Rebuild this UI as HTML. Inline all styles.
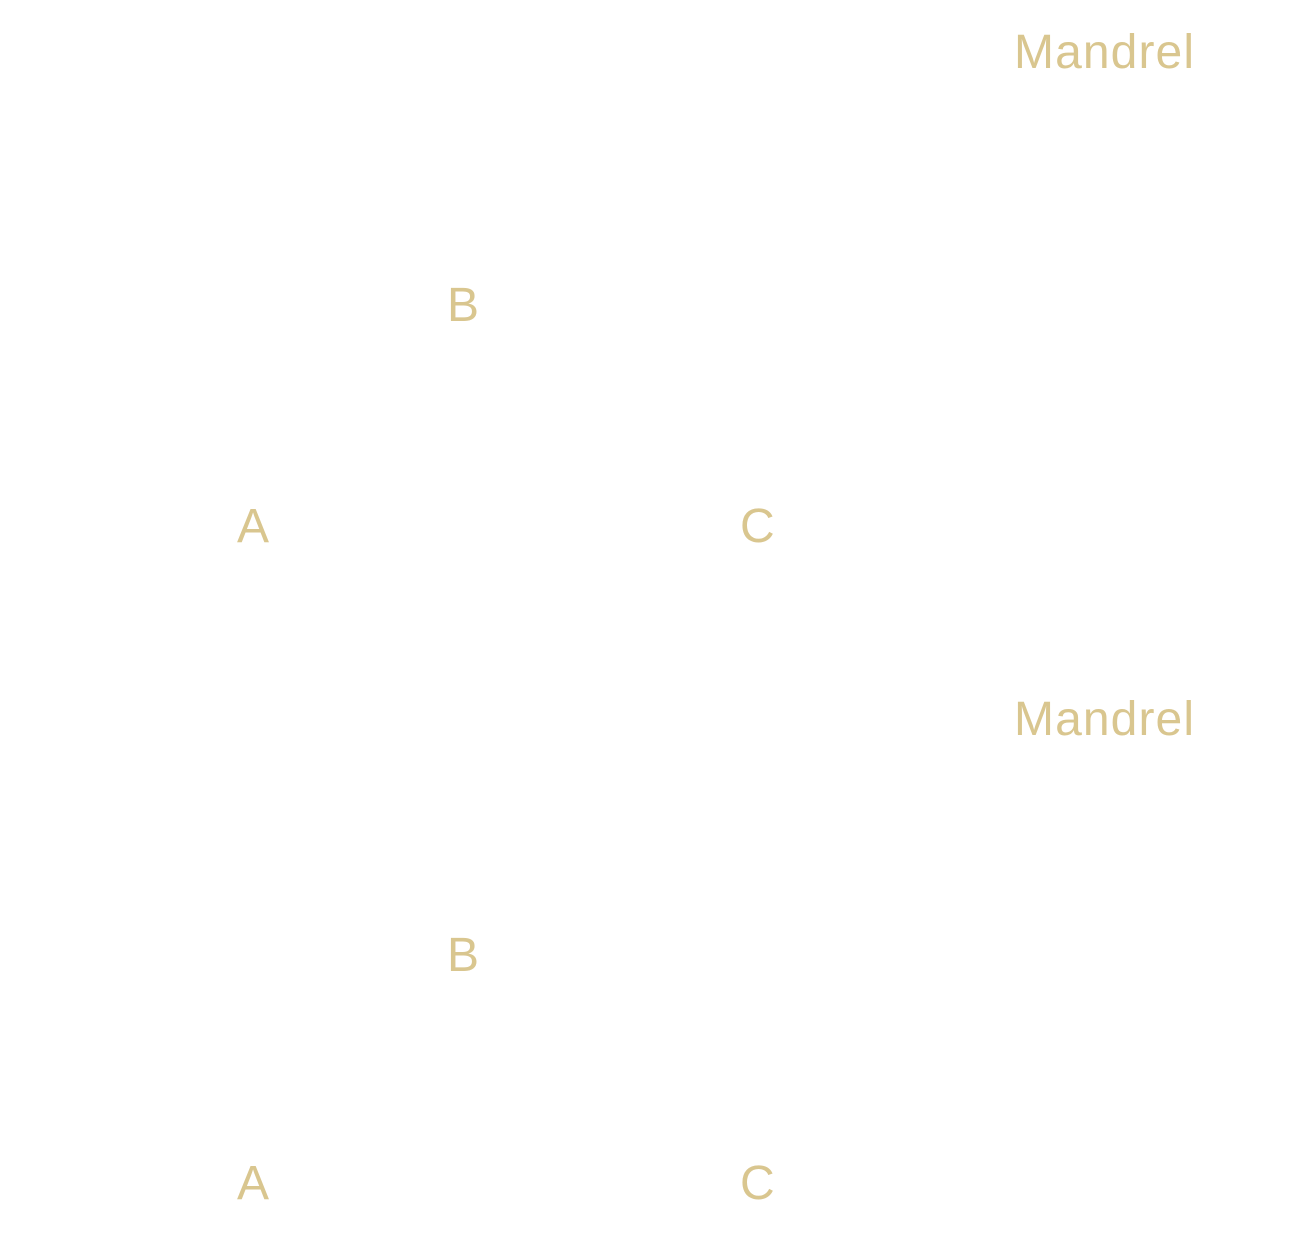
<!DOCTYPE html>
<html><head><style>
body{margin:0;width:1294px;height:1233px;background:#fff;position:relative;overflow:hidden}
span{position:absolute;font-family:"Liberation Sans",sans-serif;font-size:48px;color:#d9c68f;line-height:1;white-space:nowrap}
</style></head><body>
<span style="left:1014px;top:29px;letter-spacing:1.1px">Mandrel</span>
<span style="left:447px;top:282px">B</span>
<span style="left:237px;top:503px">A</span>
<span style="left:740px;top:503px">C</span>
<span style="left:1014px;top:696px;letter-spacing:1.1px">Mandrel</span>
<span style="left:447px;top:932px">B</span>
<span style="left:237px;top:1160px">A</span>
<span style="left:740px;top:1160px">C</span>
</body></html>
